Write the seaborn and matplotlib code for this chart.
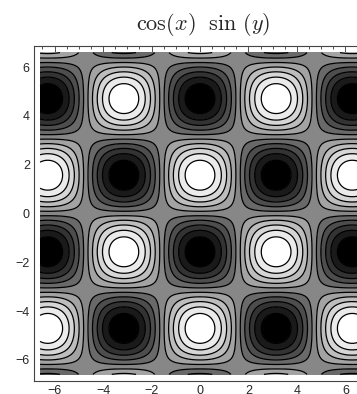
import numpy as np
import matplotlib
matplotlib.use("Agg")
import matplotlib.pyplot as plt
import seaborn as sns
from matplotlib.ticker import MultipleLocator

sns.set_style("white")
plt.rcParams['font.family'] = ['Liberation Sans', 'DejaVu Sans']
plt.rcParams['mathtext.fontset'] = 'cm'

# Plotted function and domain
title_text = r'$\cos(x)\ \ \sin\,(y)$'
x_range = [-6.6, 6.6]
y_range = [-6.6, 6.6]
n_points = 400
contour_levels = [-0.818, -0.636, -0.455, -0.273, -0.091, 0.091, 0.273, 0.455, 0.636, 0.818]
gray_levels = [0.0, 0.1, 0.2, 0.3, 0.41, 0.53, 0.64, 0.74, 0.84, 0.92, 1.0]
x_ticks = [-6, -4, -2, 0, 2, 4, 6]
y_ticks = [-6, -4, -2, 0, 2, 4, 6]

x = np.linspace(x_range[0], x_range[1], n_points)
y = np.linspace(y_range[0], y_range[1], n_points)
X, Y = np.meshgrid(x, y)
Z = np.cos(X) * np.sin(Y)

fig = plt.figure(figsize=(3.57, 3.94), dpi=100)
ax = fig.add_axes([34/357, 13/394, 332/357, 335/394])

fill_levels = [-1.01] + contour_levels + [1.01]
colors = [str(g) for g in gray_levels]
ax.contourf(X, Y, Z, levels=fill_levels, colors=colors)
ax.contour(X, Y, Z, levels=contour_levels, colors='black', linewidths=0.9,
           linestyles='solid')

ax.set_xlim(-6.85, 6.85)
ax.set_ylim(-6.87, 6.87)
ax.set_xticks(x_ticks)
ax.set_yticks(y_ticks)
ax.set_xticklabels([str(t).replace('-', '\u2212') for t in x_ticks])
ax.set_yticklabels([str(t).replace('-', '\u2212') for t in y_ticks])
ax.xaxis.set_minor_locator(MultipleLocator(0.5))
ax.yaxis.set_minor_locator(MultipleLocator(0.5))
ax.tick_params(which='both', direction='in', top=True, right=True, color='#333333', width=0.6)
ax.tick_params(which='major', length=5, labelsize=9, pad=3)
ax.tick_params(which='minor', length=2.5)
for s in ax.spines.values():
    s.set_color('#444444')
    s.set_linewidth(0.8)

fig.text(203/357, 1 - 24/394, title_text, ha='center', va='center', fontsize=16)

fig.savefig('out.png', dpi=100)
